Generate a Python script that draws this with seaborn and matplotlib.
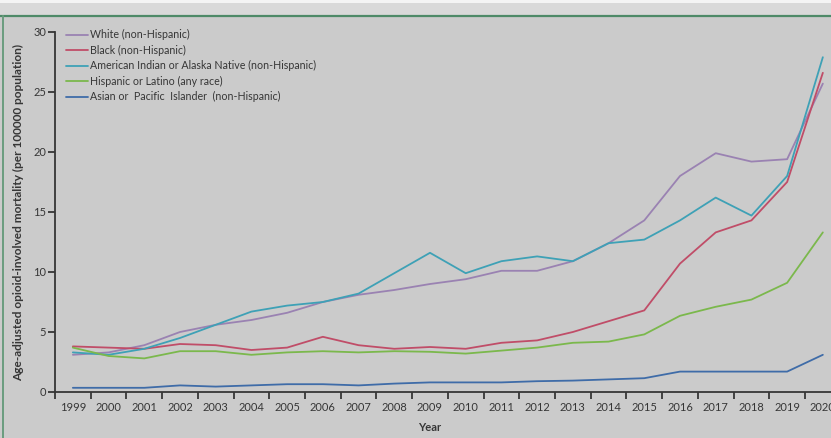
import matplotlib
matplotlib.use("Agg")
import matplotlib.pyplot as plt
from matplotlib.lines import Line2D
from matplotlib.patches import Rectangle
from matplotlib.ticker import FixedLocator, NullFormatter
import numpy as np
import pandas as pd
import seaborn as sns

# Age-adjusted opioid-involved mortality per 100 000, by race / ethnicity
years = list(range(1999, 2021))
groups = [
    "White (non-Hispanic)",
    "Black (non-Hispanic)",
    "American Indian or Alaska Native (non-Hispanic)",
    "Hispanic or Latino (any race)",
    "Asian or  Pacific  Islander  (non-Hispanic)",
]
white = [3.1, 3.3, 3.9, 5.0, 5.6, 6.0, 6.6, 7.5, 8.1, 8.5, 9.0, 9.4, 10.1, 10.1,
         10.9, 12.4, 14.3, 18.0, 19.9, 19.2, 19.4, 25.7]
black = [3.8, 3.7, 3.6, 4.0, 3.9, 3.5, 3.7, 4.6, 3.9, 3.6, 3.75, 3.6, 4.1, 4.3,
         5.0, 5.9, 6.8, 10.7, 13.3, 14.3, 17.5, 26.6]
aian = [3.3, 3.1, 3.6, 4.5, 5.6, 6.7, 7.2, 7.5, 8.2, 9.9, 11.6, 9.9, 10.9, 11.3,
        10.9, 12.4, 12.7, 14.3, 16.2, 14.7, 18.0, 27.9]
hispanic = [3.7, 3.0, 2.8, 3.4, 3.4, 3.1, 3.3, 3.4, 3.3, 3.4, 3.35, 3.2, 3.45, 3.7,
            4.1, 4.2, 4.8, 6.35, 7.1, 7.7, 9.1, 13.3]
asian = [0.35, 0.35, 0.35, 0.55, 0.45, 0.55, 0.65, 0.65, 0.55, 0.7, 0.8, 0.8, 0.8,
         0.9, 0.95, 1.05, 1.15, 1.7, 1.7, 1.7, 1.7, 3.1]
colors = ["#9a82b2", "#c04d68", "#3ea1b6", "#7bb84c", "#3f6ca8"]

df = pd.DataFrame({
    "Year": years * 5,
    "rate": white + black + aian + hispanic + asian,
    "group": sum([[g] * len(years) for g in groups], []),
})

sns.set_theme(style="white")
plt.rcParams["font.family"] = ["Lato", "DejaVu Sans"]
bg = "#cbcbcb"
ink = "#363636"
fs = 8

fig = plt.figure(figsize=(8.31, 4.38), dpi=100, facecolor=bg)
W, H = 831, 438
x0, x1, y0, y1 = 55, 840.7, 392, 32
ax = fig.add_axes([x0 / W, 1 - y0 / H, (x1 - x0) / W, (y0 - y1) / H])
ax.set_facecolor(bg)

sns.lineplot(data=df, x="Year", y="rate", hue="group", hue_order=groups,
             palette=colors, linewidth=1.3, ax=ax, legend=False)

ax.set_xlim(1998.5, 2020.5)
ax.set_ylim(0, 30)
for s in ["top", "right"]:
    ax.spines[s].set_visible(False)
for s in ["left", "bottom"]:
    ax.spines[s].set_color(ink)
    ax.spines[s].set_linewidth(1.3)

# year labels centred between boundary ticks
ax.xaxis.set_major_locator(FixedLocator(np.arange(1998.5, 2021, 1.0)))
ax.xaxis.set_major_formatter(NullFormatter())
ax.xaxis.set_minor_locator(FixedLocator(years))
ax.set_xticklabels([str(y) for y in years], minor=True)
ax.tick_params(axis="x", which="major", direction="out", length=5, width=1.3,
               color=ink, bottom=True)
ax.tick_params(axis="x", which="minor", length=0, labelsize=fs,
               labelcolor=ink, pad=7, bottom=True)
ax.set_yticks([0, 5, 10, 15, 20, 25, 30])
ax.tick_params(axis="y", direction="out", length=5, width=1.3, color=ink,
               labelsize=fs, labelcolor=ink, pad=1.5, left=True)

ax.set_xlabel("Year", fontsize=fs, color=ink, fontweight="bold")
ax.xaxis.set_label_coords(0.477, -0.082)
ax.set_ylabel("Age-adjusted opioid-involved mortality (per 100000 population)",
              fontsize=8.6, color=ink, fontweight="bold")
ax.yaxis.set_label_coords(-0.039, 0.5)

handles = [Line2D([], [], color=c, lw=1.3) for c in colors]
leg = ax.legend(handles, groups, loc="upper left",
                bbox_to_anchor=(62 / W, 1 - 25 / H),
                bbox_transform=fig.transFigure, frameon=False, fontsize=7.7,
                handlelength=2.0, handletextpad=0.2, labelspacing=0.42,
                borderaxespad=0)
for t in leg.get_texts():
    t.set_color(ink)

# page frame: pale band on top, green rule above and at the left
fig.patches.append(Rectangle((0, 1 - 15 / H), 1, 15 / H, transform=fig.transFigure,
                             facecolor="#d9d9d9", edgecolor="none", zorder=0))
fig.patches.append(Rectangle((0, 1 - 3 / H), 1, 3 / H, transform=fig.transFigure,
                             facecolor="#f4f4f4", edgecolor="none", zorder=0))
fig.add_artist(Line2D([0, 1], [1 - 15.5 / H] * 2, transform=fig.transFigure,
                      color="#4e8a68", lw=1.6))
fig.add_artist(Line2D([2.5 / W] * 2, [0, 1 - 15.5 / H], transform=fig.transFigure,
                      color="#6a9c7e", lw=1.4))

fig.savefig("out.png", dpi=100, facecolor=bg)
